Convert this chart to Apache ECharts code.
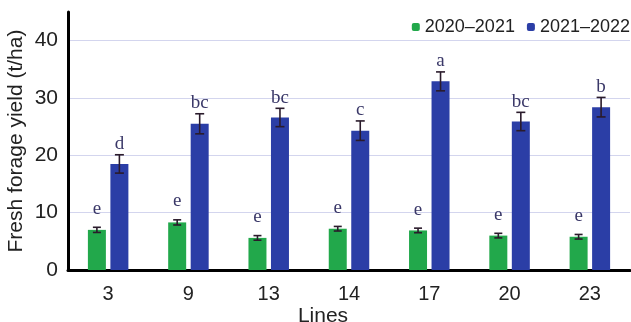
<!DOCTYPE html>
<html>
<head>
<meta charset="utf-8">
<script src="https://cdn.jsdelivr.net/npm/echarts@6/dist/echarts.min.js"></script>
<style>
html,body{margin:0;padding:0;background:#fff;}
#chart{width:631px;height:322px;}
</style>
</head>
<body>
<div id="chart"></div>
<script>
var categories = ['3', '9', '13', '14', '17', '20', '23'];
var seriesNames = ['2020\u20132021', '2021\u20132022'];
var yield2021 = [7.0, 8.3, 5.6, 7.2, 6.9, 6.0, 5.8];
var err2021 = [0.45, 0.45, 0.4, 0.4, 0.4, 0.4, 0.4];
var letters2021 = ['e', 'e', 'e', 'e', 'e', 'e', 'e'];
var yield2022 = [18.5, 25.5, 26.6, 24.3, 32.9, 25.9, 28.4];
var err2022 = [1.6, 1.75, 1.6, 1.7, 1.65, 1.6, 1.7];
var letters2022 = ['d', 'bc', 'bc', 'c', 'a', 'bc', 'b'];
var yTicks = [0, 10, 20, 30, 40];

var BAR_W = 18;
var GAP = 0.25;
var colors = ['#22a84b', '#2b3ea6'];

function errData(vals, errs, letters) {
  return vals.map(function (v, i) { return [i, v, errs[i], letters[i]]; });
}

function makeErr(sign, capW, letterGap) {
  return function (params, api) {
    var idx = api.value(0);
    var v = api.value(1);
    var e = api.value(2);
    var letter = api.value(3);
    var cx = api.coord([idx, 0])[0] + sign * (BAR_W * (1 + GAP)) / 2;
    var top = api.coord([idx, v + e])[1];
    var bot = api.coord([idx, v - e])[1];
    var st = { stroke: '#2a1b2b', lineWidth: 1.6 };
    return {
      type: 'group',
      children: [
        { type: 'line', shape: { x1: cx, y1: top, x2: cx, y2: bot }, style: st },
        { type: 'line', shape: { x1: cx - capW / 2, y1: top, x2: cx + capW / 2, y2: top }, style: st },
        { type: 'line', shape: { x1: cx - capW / 2, y1: bot, x2: cx + capW / 2, y2: bot }, style: st },
        { type: 'text', style: { x: cx, y: top - letterGap, text: letter, fill: '#3a3868',
          font: '19px "Liberation Serif", serif', textAlign: 'center', textVerticalAlign: 'bottom' } }
      ]
    };
  };
}

var chart = echarts.init(document.getElementById('chart'), null, { renderer: 'canvas' });
chart.setOption({
  animation: false,
  backgroundColor: '#fff',
  textStyle: { fontFamily: 'Liberation Sans, Arial, sans-serif' },
  grid: { left: 68, right: 1, top: 12, bottom: 52, containLabel: false, outerBoundsMode: 'none' },
  legend: {
    data: seriesNames,
    right: 1, top: 18, padding: 0,
    itemWidth: 8, itemHeight: 8, itemGap: 12,
    textStyle: { fontSize: 18, color: '#222', fontFamily: 'Liberation Sans, Arial, sans-serif' }
  },
  xAxis: {
    type: 'category',
    data: categories,
    name: 'Lines',
    nameLocation: 'middle',
    nameGap: 36,
    nameMoveOverlap: false,
    nameTextStyle: { fontSize: 21, color: '#222', padding: [0, 52, 0, 0] },
    axisLine: { lineStyle: { color: '#000', width: 3 } },
    axisTick: { show: false },
    axisLabel: { fontSize: 20, color: '#222', margin: 14 }
  },
  yAxis: {
    type: 'value',
    min: 0, max: 45, interval: 10,
    name: 'Fresh forage yield (t/ha)',
    nameLocation: 'middle',
    nameGap: 41,
    nameMoveOverlap: false,
    nameTextStyle: { fontSize: 21, color: '#222' },
    axisLine: { show: true, lineStyle: { color: '#000', width: 3 } },
    axisTick: { show: false },
    axisLabel: { fontSize: 21, color: '#222', margin: 10, showMaxLabel: false,
      formatter: function (v) { return yTicks.indexOf(v) >= 0 ? String(v) : ''; } },
    splitLine: { show: true, showMinLine: false, showMaxLine: false, lineStyle: { color: '#d3d5ee', width: 1.2 } }
  },
  series: [
    { name: seriesNames[0], type: 'bar', data: yield2021, barWidth: BAR_W, barGap: (GAP * 100) + '%',
      itemStyle: { color: colors[0] } },
    { name: seriesNames[1], type: 'bar', data: yield2022, barWidth: BAR_W, barGap: (GAP * 100) + '%',
      itemStyle: { color: colors[1] } },
    { name: 'err1', type: 'custom', data: errData(yield2021, err2021, letters2021),
      renderItem: makeErr(-1, 8, 9), z: 5, silent: true },
    { name: 'err2', type: 'custom', data: errData(yield2022, err2022, letters2022),
      renderItem: makeErr(1, 9, 1), z: 5, silent: true }
  ]
});
</script>
</body>
</html>
